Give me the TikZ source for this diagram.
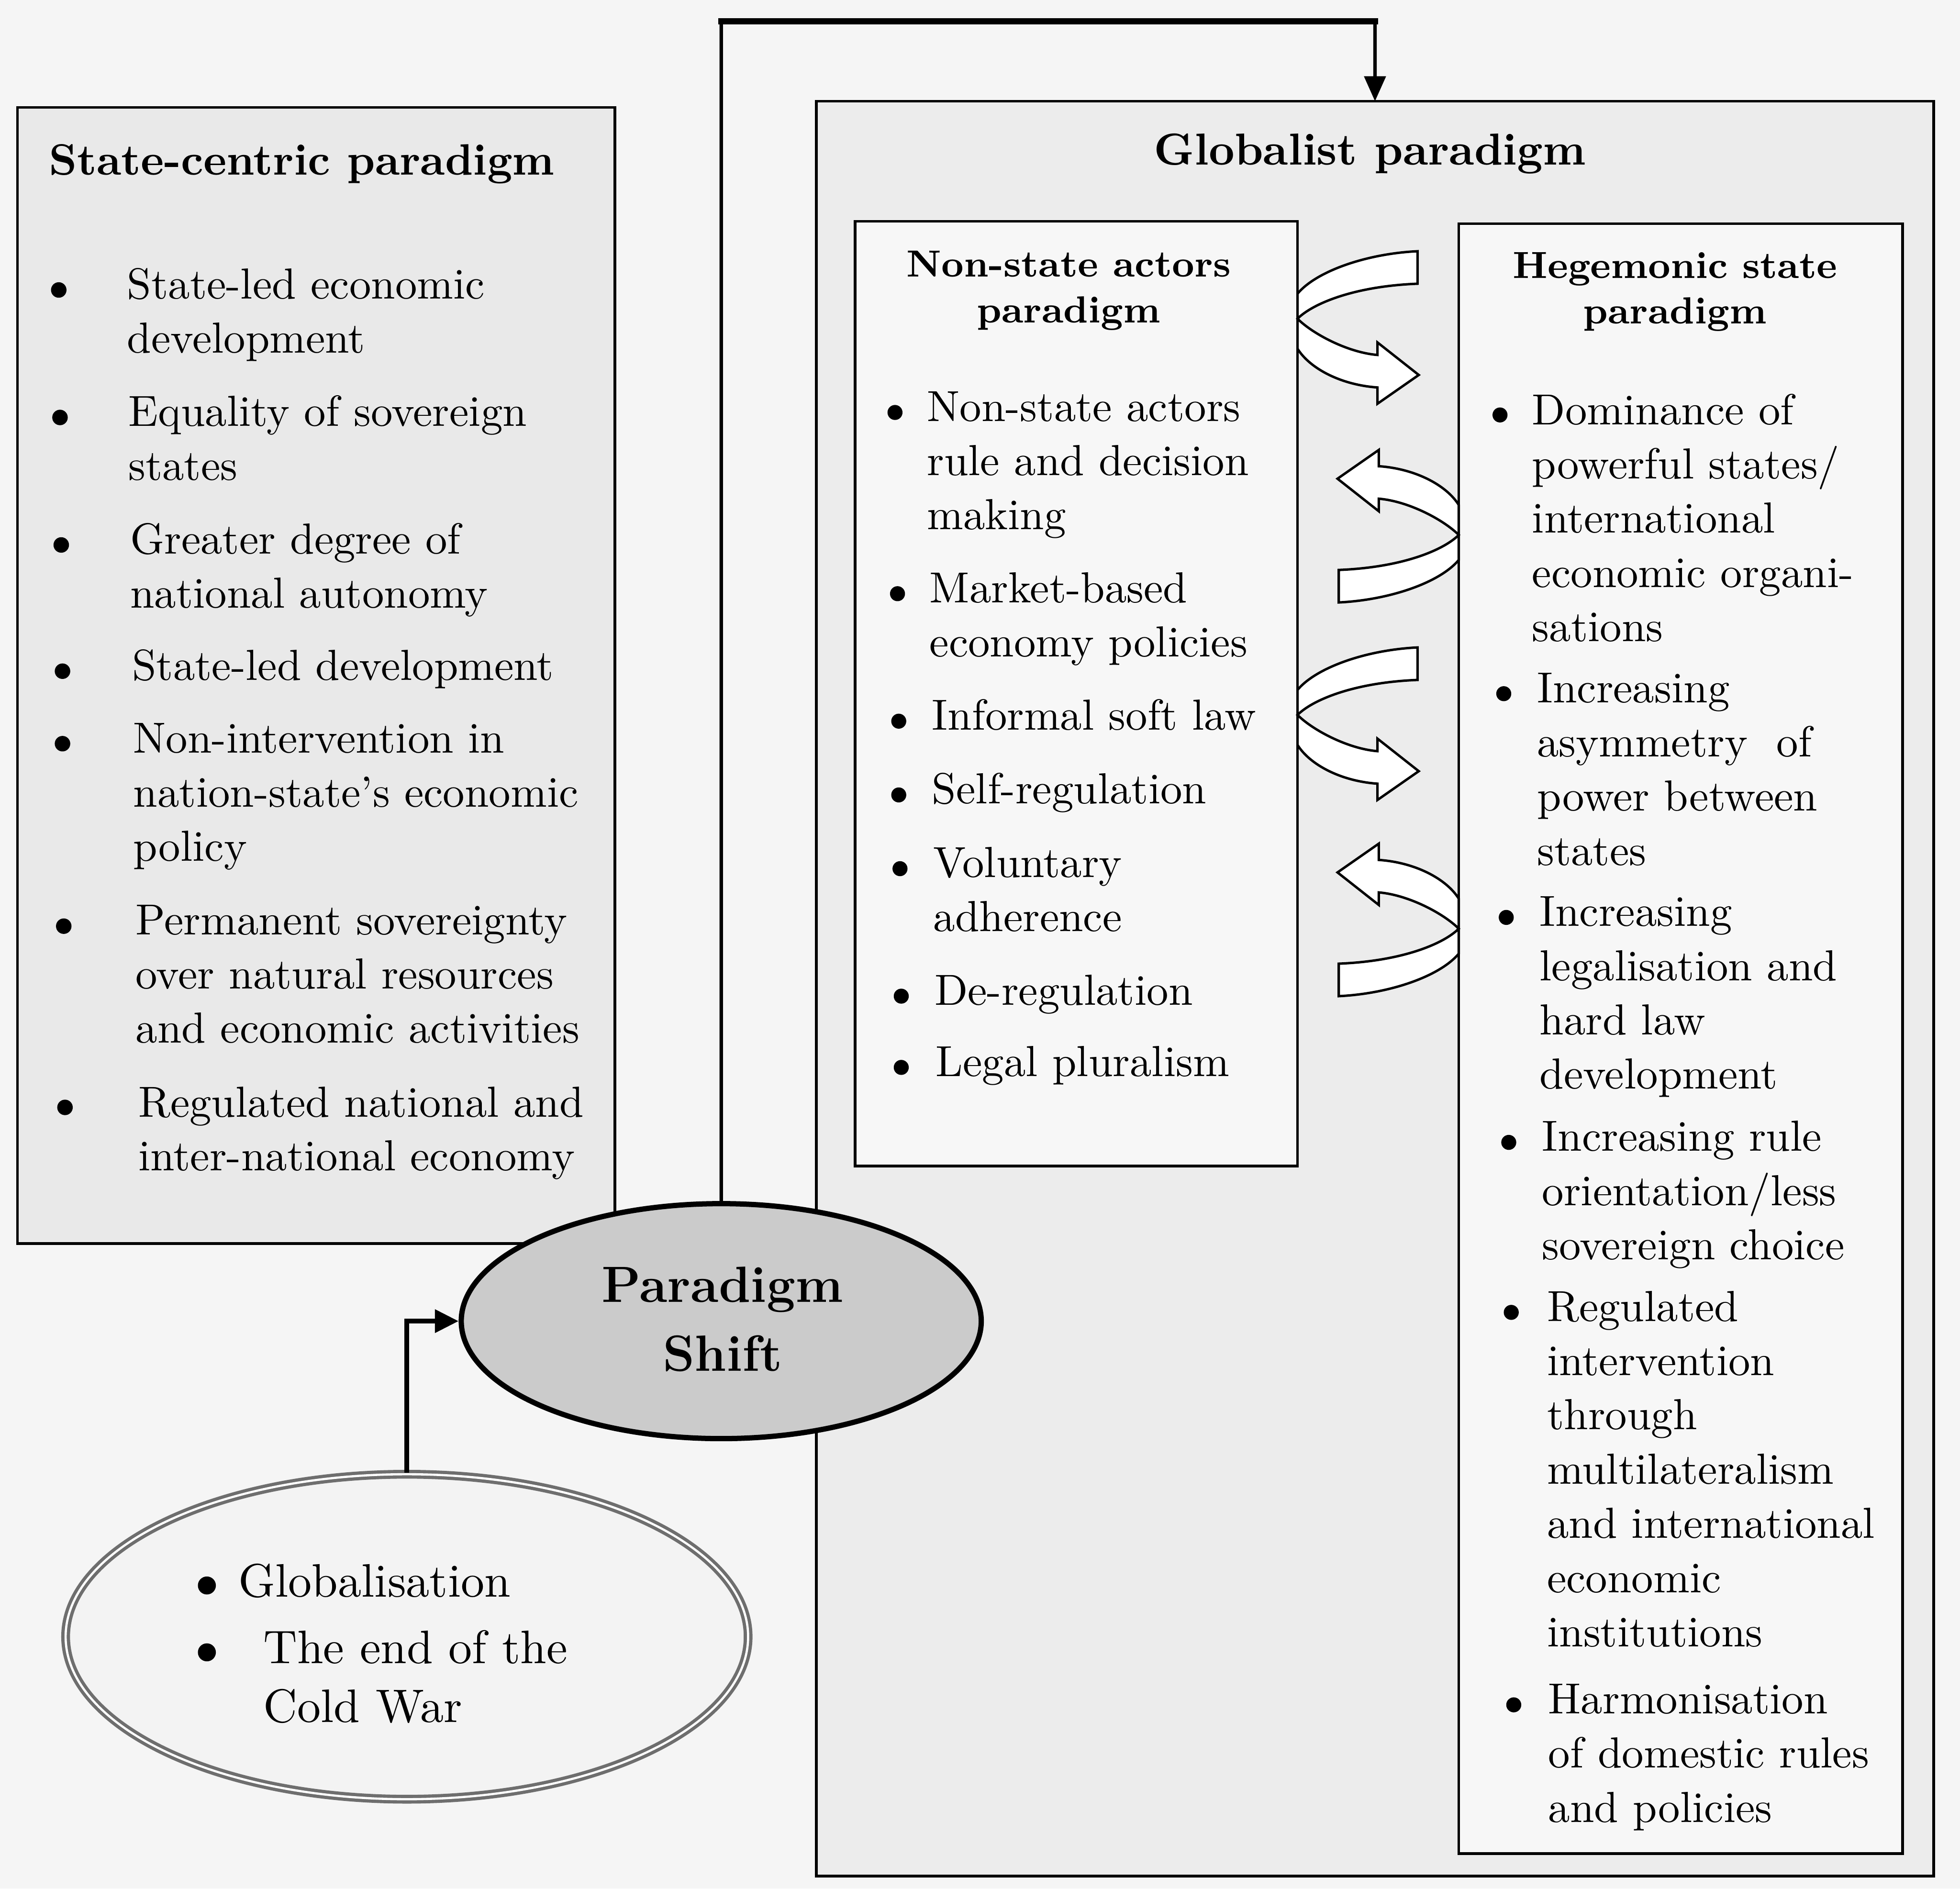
\documentclass[tikz,border=0pt]{standalone}
\usetikzlibrary{shapes.geometric,arrows.meta}
\definecolor{pagebg}{HTML}{F5F5F5}
\definecolor{scfill}{HTML}{E9E9E9}
\definecolor{gfill}{HTML}{ECECEC}
\definecolor{infill}{HTML}{F7F7F7}
\definecolor{psfill}{HTML}{CBCBCB}
\definecolor{gefill}{HTML}{F3F3F3}
\definecolor{gering}{HTML}{6E6E6E}
\newcommand{\bodyfont}{\fontsize{9.9}{12.3}\selectfont}
\newcommand{\pbx}[1]{\parbox[t]{70mm}{\raggedright #1}}
\newcommand{\cbx}[1]{\parbox[t]{45mm}{\centering #1}}
\newcommand{\UArrow}[2]{%
  \begin{scope}[shift={(#1)},rotate=#2]
    \filldraw[uarrow] (96,-54) .. controls (55,-52) and (15,-38) .. (0,-20)
      -- (0,24) .. controls (10,40) and (35,53) .. (64,55)
      -- (64,68) -- (97,45) -- (64,19) -- (64,29)
      .. controls (40,27) and (12,12) .. (0,0)
      .. controls (12,-12) and (45,-26) .. (96,-28) -- cycle;
  \end{scope}}
\tikzset{
  box/.style={draw=black, line width=0.6pt, rectangle, inner sep=0pt, outer sep=0pt, anchor=north west},
  uarrow/.style={draw=black, line width=0.55pt, fill=white, line join=miter},
  item/.style={anchor=base west, inner sep=0pt, font=\bodyfont},
  ttl/.style={anchor=base, inner sep=0pt, font=\bfseries\fontsize{10}{12}\selectfont},
  subttl/.style={anchor=base, inner sep=0pt, font=\bfseries\fontsize{8.6}{10.4}\selectfont},
  conn/.style={draw=black, line width=0.8pt},
  bul/.style={fill=black}
}
\begin{document}
\begin{tikzpicture}[x=0.1mm, y=-0.1mm]
\useasboundingbox (0,0) rectangle (1568,1511);
\fill[pagebg] (0,0) rectangle (1568,1511);

% boxes
\node[box, fill=scfill, minimum width=47.8mm, minimum height=90.9mm] (SC) at (14,86) {};
\node[box, fill=gfill, minimum width=89.4mm, minimum height=142mm] (G) at (653,81) {};
\node[box, fill=infill, minimum width=35.4mm, minimum height=75.6mm] (NS) at (684,177) {};
\node[box, fill=infill, minimum width=35.5mm, minimum height=130.4mm] (HS) at (1167,179) {};

% curved two-way arrows
\UArrow{1038,255}{0}
\UArrow{1167,428}{180}
\UArrow{1038,572}{0}
\UArrow{1167,743}{180}

% connectors
\coordinate (c1) at (577,17);
\coordinate (c2) at (1100,17);
\draw[conn, line join=miter, -{Triangle[length=2mm,width=1.7mm]}] (577,963) -- (c1) -- (c2) -- (G.north);
\draw[line width=1.4pt, line cap=rect] (c1) -- (c2);

% ellipses
\node[ellipse, draw=black, line width=1.2pt, fill=psfill, minimum width=41.6mm, minimum height=18.8mm, inner sep=0pt] (PS) at (577,1057) {};
\node[ellipse, draw=gering, double=white, line width=0.75pt, double distance=0.5pt, fill=gefill, minimum width=54.6mm, minimum height=26mm, inner sep=0pt] (GE) at (325.5,1309.5) {};
\draw[line width=1.1pt, -{Triangle[length=1.9mm,width=1.8mm]}] (GE.north) |- (PS.west);

% titles
\node[ttl] (tsc) at (241.5,140) {State-centric paradigm};
\node[ttl, font=\bfseries\fontsize{10.2}{12}\selectfont] (tg) at (1096,132) {Globalist paradigm};
\node[subttl] (tns) at (855,221.5) {\cbx{Non-state actors\\paradigm}};
\node[subttl] (ths) at (1340,222.5) {\cbx{Hegemonic state\\paradigm}};
\node[anchor=base, inner sep=0pt, font=\bfseries\fontsize{11.6}{15.6}\selectfont] (tps) at (578,1042) {\cbx{Paradigm\\Shift}};

% state-centric items
\node[item] (sc1) at (101,239) {\pbx{State-led economic\\development}};
\node[item] (sc2) at (102,341) {\pbx{Equality of sovereign\\states}};
\node[item] (sc3) at (103.5,443) {\pbx{Greater degree of\\national autonomy}};
\node[item] (sc4) at (105,544) {\pbx{State-led development}};
\node[item] (sc5) at (106,602.5) {\pbx{Non-intervention in\\nation-state’s economic\\policy}};
\node[item] (sc6) at (108,748) {\pbx{Permanent sovereignty\\over natural resources\\and economic activities}};
\node[item] (sc7) at (110,893.5) {\pbx{Regulated national and\\inter-national economy}};
\foreach \bx/\by in {47/232, 48/334, 49/436, 50/537, 50/595, 51/741, 52/886}
  \fill[bul] (\bx,\by) circle[radius=0.62mm];

% non-state items
\node[item] (ns1) at (741,337) {\pbx{Non-state actors\\rule and decision\\making}};
\node[item] (ns2) at (743,482) {\pbx{Market-based\\economy policies}};
\node[item] (ns3) at (745,584) {\pbx{Informal soft law}};
\node[item] (ns4) at (745,643) {\pbx{Self-regulation}};
\node[item] (ns5) at (746,702) {\pbx{Voluntary\\adherence}};
\node[item] (ns6) at (747,804) {\pbx{De-regulation}};
\node[item] (ns7) at (748,861) {\pbx{Legal pluralism}};
\foreach \bx/\by in {716/330, 718/475, 719/577, 719/636, 720/695, 721/797, 721/854}
  \fill[bul] (\bx,\by) circle[radius=0.6mm];

% hegemonic items
\node[item, font=\fontsize{9.9}{12.35}\selectfont] (hs1) at (1225,339.6) {\pbx{Dominance of\\powerful states/\\international\\economic organi-\\sations}};
\node[item, font=\fontsize{9.9}{12.35}\selectfont] (hs2) at (1229,562) {\pbx{Increasing\\asymmetry\ \ of\\power between\\states}};
\node[item, font=\fontsize{9.9}{12.35}\selectfont] (hs3) at (1231,741) {\pbx{Increasing\\legalisation and\\hard law\\development}};
\node[item, font=\fontsize{9.9}{12.35}\selectfont] (hs4) at (1233,921) {\pbx{Increasing rule\\orientation/less\\sovereign choice}};
\node[item, font=\fontsize{9.9}{12.35}\selectfont] (hs5) at (1237,1057) {\pbx{Regulated\\intervention\\through\\multilateralism\\and international\\economic\\institutions}};
\node[item, font=\fontsize{9.9}{12.35}\selectfont] (hs6) at (1238,1371) {\pbx{Harmonisation\\of domestic rules\\and policies}};
\foreach \bx/\by in {1200/332, 1203/555, 1205/734, 1207/914, 1209/1050, 1211/1364}
  \fill[bul] (\bx,\by) circle[radius=0.6mm];

% globalisation ellipse items
\node[item, font=\fontsize{10.7}{13.4}\selectfont] (ge1) at (190,1277.5) {\pbx{Globalisation}};
\node[item, font=\fontsize{10.7}{13.4}\selectfont] (ge2) at (210,1331) {\pbx{The end of the\\Cold War}};
\fill[bul] (165.5,1268.5) circle[radius=0.72mm];
\fill[bul] (165.5,1322) circle[radius=0.72mm];
\end{tikzpicture}
\end{document}
